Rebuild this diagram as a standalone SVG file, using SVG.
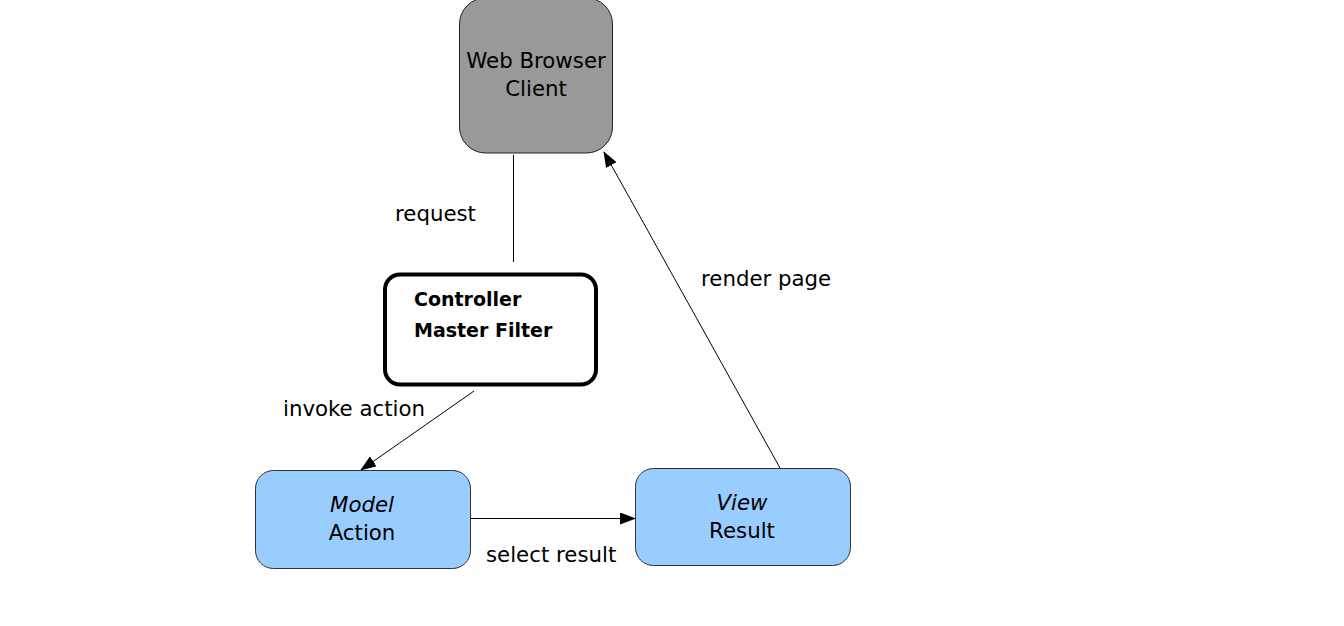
<svg xmlns="http://www.w3.org/2000/svg" width="1344" height="626" viewBox="0 0 1344 626">
<defs>
<marker id="arr" markerWidth="16" markerHeight="12" refX="15" refY="6" orient="auto" markerUnits="userSpaceOnUse">
<path d="M0,0 L16,6 L0,12 Z" fill="#000"/>
</marker>
<style>
text{font-family:"DejaVu Sans",sans-serif;font-size:21.3px;fill:#000}
.lbl{text-anchor:start}
.c{text-anchor:middle}
.b{font-weight:bold;font-size:19px}
.blue{fill:#99ccff;stroke:#333;stroke-width:1}
.conn{stroke:#000;stroke-width:1;fill:none}
</style>
</defs>
<rect width="1344" height="626" fill="#fff"/>
<g id="browser">
<rect x="459.5" y="-2" width="153" height="155" rx="26" fill="#999999" stroke="#222" stroke-width="1"/>
<text class="c" x="536" y="68">Web Browser</text>
<text class="c" x="536" y="96">Client</text>
</g>
<g id="controller">
<rect x="385" y="274.5" width="211" height="110" rx="15" fill="#fff" stroke="#000" stroke-width="4"/>
<text class="b" x="414" y="306">Controller</text>
<text class="b" x="414" y="337">Master Filter</text>
</g>
<g id="model">
<rect class="blue" x="255.5" y="470.5" width="215" height="98" rx="18"/>
<text class="c" x="362" y="512" font-style="italic">Model</text>
<text class="c" x="362" y="540">Action</text>
</g>
<g id="view">
<rect class="blue" x="635.5" y="468.5" width="215" height="97" rx="18"/>
<text class="c" x="742" y="510" font-style="italic">View</text>
<text class="c" x="742" y="538">Result</text>
</g>
<g id="connectors">
<line class="conn" x1="513.5" y1="155" x2="513.5" y2="262"/>
<line class="conn" x1="474" y1="391" x2="361" y2="470" marker-end="url(#arr)"/>
<line class="conn" x1="471" y1="518.5" x2="635" y2="518.5" marker-end="url(#arr)"/>
<line class="conn" x1="780" y1="468" x2="604" y2="152" marker-end="url(#arr)"/>
</g>
<g id="labels">
<text class="lbl" x="395" y="221">request</text>
<text class="lbl" x="701" y="286">render page</text>
<text class="lbl" x="283" y="416">invoke action</text>
<text class="lbl" x="486" y="562">select result</text>
</g>
</svg>
